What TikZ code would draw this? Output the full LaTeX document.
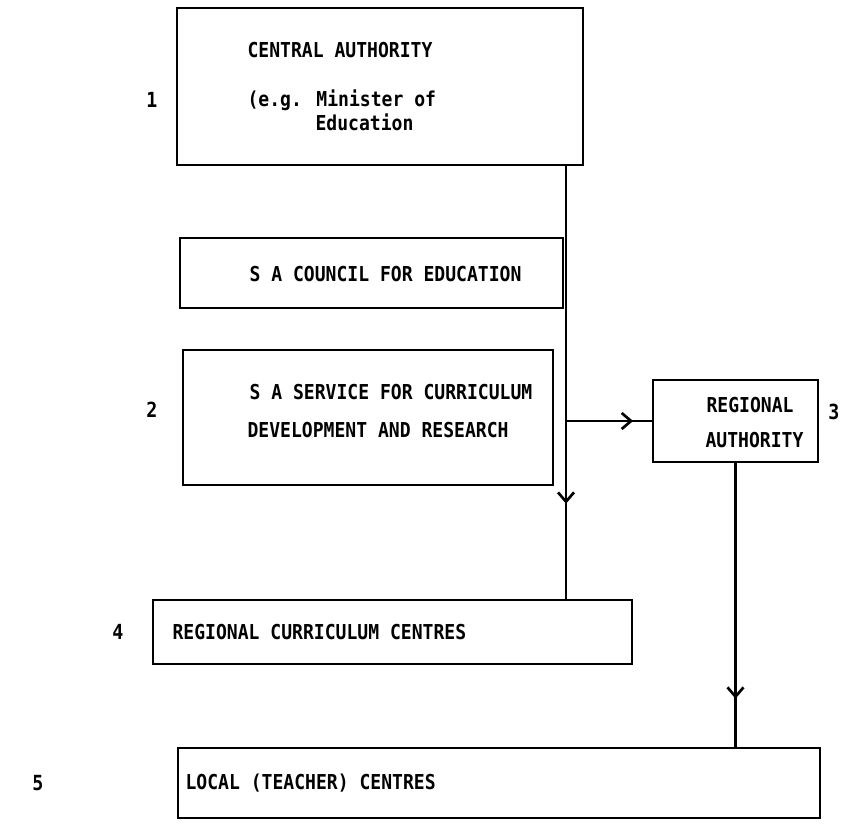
\documentclass[tikz,border=0pt]{standalone}
\usepackage{fontspec}
\setmonofont{DejaVu Sans Mono}
\newfontfamily\typefont[FakeStretch=0.88]{DejaVu Sans Mono}
\usetikzlibrary{arrows.meta,decorations.markings}

\tikzset{every picture/.style={line width=0.75pt}}
\tikzset{
  orgbox/.style={draw, line width=1.5pt, inner sep=0pt},
  lbl/.style={inner sep=0pt, anchor=west, font=\typefont\bfseries\fontsize{15.4}{17}\selectfont},
  num/.style={inner sep=0pt, font=\typefont\bfseries\fontsize{15.6}{17}\selectfont},
  flow/.style={line width=2pt, postaction={decorate},
    decoration={markings, mark=at position #1 with {\arrow{Straight Barb[length=7pt,width=12pt,line width=2pt]}}}}
}

\begin{document}
\begin{tikzpicture}[x=0.75pt,y=0.75pt,yscale=-1,xscale=1]
		\path[use as bounding box] (0,0) rectangle (846,837);

		%Shape: Rectangle [central authority]
		\node[orgbox, minimum width=406*0.75pt, minimum height=157*0.75pt] (ca) at (380,86.5) {};
		%Shape: Rectangle [council]
		\node[orgbox, minimum width=383*0.75pt, minimum height=70*0.75pt] (council) at (371.5,273) {};
		%Shape: Rectangle [service]
		\node[orgbox, minimum width=370*0.75pt, minimum height=135*0.75pt] (service) at (368,417.5) {};
		%Shape: Rectangle [regional authority]
		\node[orgbox, minimum width=165*0.75pt, minimum height=82*0.75pt] (regauth) at (735.5,421) {};
		%Shape: Rectangle [regional curriculum centres]
		\node[orgbox, minimum width=479*0.75pt, minimum height=64*0.75pt] (rcc) at (392.5,632) {};
		%Shape: Rectangle [local centres]
		\node[orgbox, minimum width=642*0.75pt, minimum height=70*0.75pt] (local) at (499,783) {};

		\coordinate (spine) at (566,0);

		%Straight Lines
		\draw[flow=0.78] (spine |- ca.south) -- (spine |- rcc.north);
		%Straight Lines
		\draw[flow=0.78] (spine |- regauth.west) -- (regauth.west);
		%Straight Lines
		\draw[flow=0.83] (regauth.south) -- (regauth.south |- local.north);

		% Text Node
		\node[lbl] (caname) at (247,50) {CENTRAL AUTHORITY};
		% Text Node
		\node[lbl] (caeg) at (247,100) {(e.g. Minister of};
		% Text Node
		\node[lbl] (caedu) at (315,122) {Education};
		% Text Node
		\node[lbl] (councilname) at (249,274) {S A COUNCIL FOR EDUCATION};
		% Text Node
		\node[lbl] (serviceone) at (249,392) {S A SERVICE FOR CURRICULUM};
		% Text Node
		\node[lbl] (servicetwo) at (247,430) {DEVELOPMENT AND RESEARCH};
		% Text Node
		\node[lbl] (regone) at (706,405) {REGIONAL};
		% Text Node
		\node[lbl] (regtwo) at (705,440) {AUTHORITY};
		% Text Node
		\node[lbl] (rccname) at (172,632) {REGIONAL CURRICULUM CENTRES};
		% Text Node
		\node[lbl] (localname) at (185,783) {LOCAL (TEACHER) CENTRES};

		% Text Node
		\node[num] (n1) at (152,100) {1};
		% Text Node
		\node[num] (n2) at (152,410) {2};
		% Text Node
		\node[num] (n3) at (834,412) {3};
		% Text Node
		\node[num] (n4) at (118,632) {4};
		% Text Node
		\node[num] (n5) at (38,783) {5};

\end{tikzpicture}
\end{document}
